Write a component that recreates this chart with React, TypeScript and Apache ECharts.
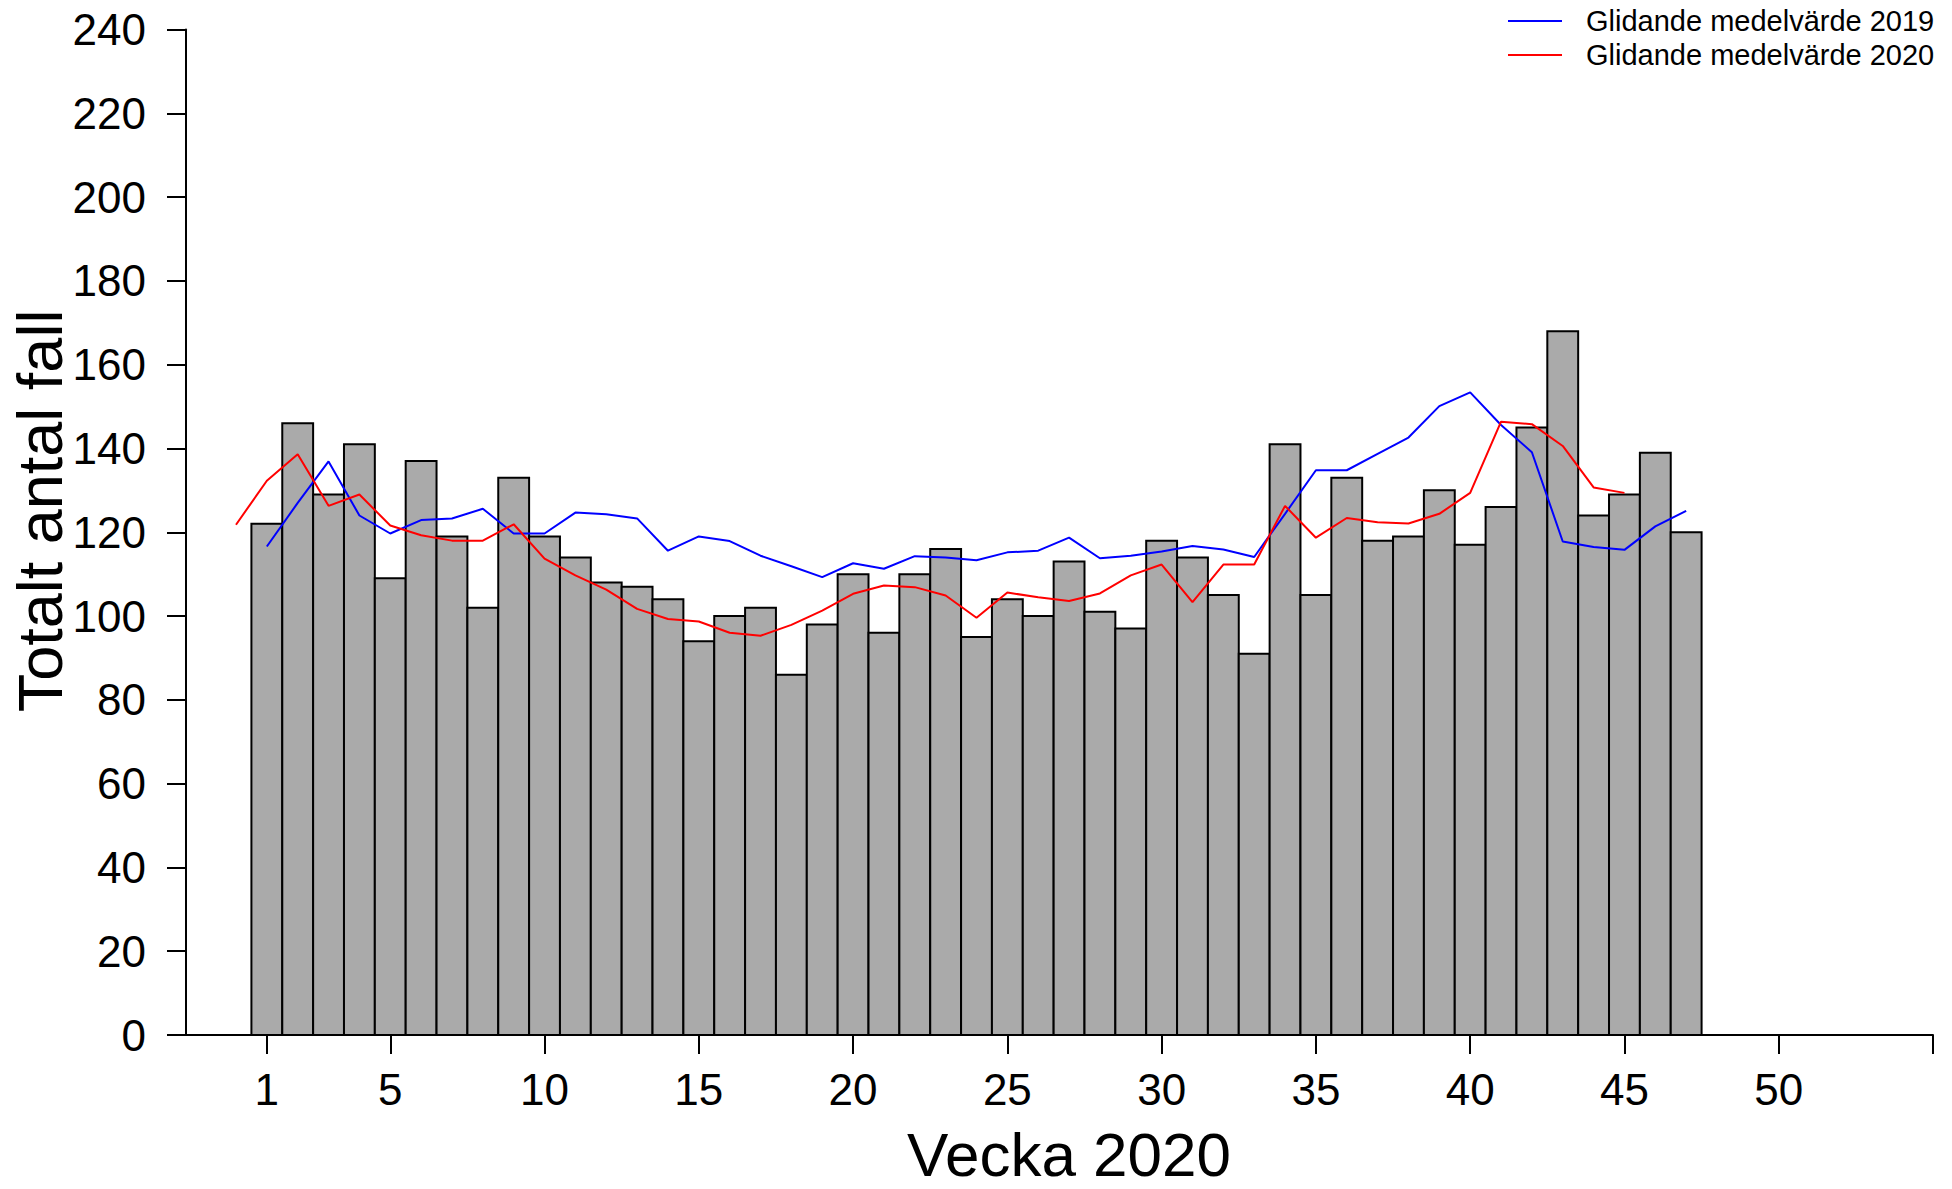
import React, { useEffect, useRef } from "react";
import * as echarts from "echarts";

// week numbers (x positions)
const weeks = [0, 1, 2, 3, 4, 5, 6, 7, 8, 9, 10, 11, 12, 13, 14, 15, 16, 17, 18, 19, 20, 21, 22, 23, 24, 25, 26, 27, 28, 29, 30, 31, 32, 33, 34, 35, 36, 37, 38, 39, 40, 41, 42, 43, 44, 45, 46, 47];

// Totalt antal fall per vecka 2020 (weeks 1..47)
const cases = [122, 146, 129, 141, 109, 137, 119, 102, 133, 119, 114, 108, 107, 104, 94, 100, 102, 86, 98, 110, 96, 110, 116, 95, 104, 100, 113, 101, 97, 118, 114, 105, 91, 141, 105, 133, 118, 119, 130, 117, 126, 145, 168, 124, 129, 139, 120];

// Glidande medelvärde 2019 (weeks 1..47)
const ma2019 = [116.6, 127.0, 136.9, 124.0, 119.7, 122.9, 123.3, 125.6, 119.7, 119.7, 124.7, 124.3, 123.3, 115.6, 119.0, 117.9, 114.4, 111.9, 109.3, 112.6, 111.3, 114.3, 114.0, 113.3, 115.2, 115.6, 118.7, 113.8, 114.4, 115.4, 116.7, 115.9, 114.1, 124.4, 134.8, 134.8, 138.7, 142.6, 150.1, 153.4, 145.6, 139.1, 117.8, 116.5, 115.8, 121.4, 125.1];

// Glidande medelvärde 2020 (weeks 0..45)
const ma2020 = [121.8, 132.3, 138.6, 126.3, 129.0, 121.6, 119.3, 118.0, 118.0, 121.9, 113.7, 109.7, 106.3, 101.7, 99.3, 98.7, 96.0, 95.3, 97.9, 101.3, 105.3, 107.3, 106.9, 104.9, 99.6, 105.6, 104.5, 103.6, 105.4, 109.7, 112.3, 103.3, 112.3, 112.3, 126.3, 118.7, 123.4, 122.4, 122.1, 124.4, 129.4, 146.4, 145.8, 140.6, 130.7, 129.4];

const xTickValues = [1, 5, 10, 15, 20, 25, 30, 35, 40, 45, 50, 55];
const xLabelValues = [1, 5, 10, 15, 20, 25, 30, 35, 40, 45, 50];

const seriesNames = ["Glidande medelvärde 2019", "Glidande medelvärde 2020"];
const xTitle = "Vecka 2020";
const yTitle = "Totalt antal fall";

const FONT = '"Liberation Sans", Arial, Helvetica, sans-serif';

export default function App() {
  const ref = useRef<HTMLDivElement>(null);

  useEffect(() => {
    document.body.style.margin = "0";
    if (!ref.current) return;
    const chart = echarts.init(ref.current, null, { renderer: "svg" });

    const barData = cases.map((v, i) => [weeks[i + 1], v]);
    const blueData = ma2019.map((v, i) => [weeks[i + 1], v]);
    const redData = ma2020.map((v, i) => [weeks[i], v]);

    const option: any = {
      animation: false,
      backgroundColor: "#ffffff",
      textStyle: { fontFamily: FONT },
      grid: {
        left: 186,
        right: 19,
        top: 29.5,
        bottom: 154,
        containLabel: false,
        outerBoundsMode: "none",
      },
      legend: {
        orient: "vertical",
        left: 1508,
        top: 4,
        padding: 0,
        itemGap: 0,
        icon: "rect",
        itemWidth: 54,
        itemHeight: 2,
        data: seriesNames,
        textStyle: {
          fontFamily: FONT,
          fontSize: 29,
          color: "#000",
          lineHeight: 34,
          padding: [0, 0, 0, 19],
        },
      },
      xAxis: {
        type: "value",
        min: -1.62,
        max: 55,
        splitLine: { show: false },
        axisLine: { show: true, onZero: false, lineStyle: { color: "#000", width: 2 } },
        axisTick: {
          show: true,
          length: 19,
          lineStyle: { color: "#000", width: 2 },
          customValues: xTickValues,
        },
        axisLabel: {
          show: true,
          customValues: xLabelValues,
          fontFamily: FONT,
          fontSize: 44,
          color: "#000",
          margin: 32,
        },
      },
      yAxis: {
        type: "value",
        min: 0,
        max: 240,
        interval: 20,
        splitLine: { show: false },
        axisLine: { show: true, onZero: false, lineStyle: { color: "#000", width: 2 } },
        axisTick: { show: true, length: 19, lineStyle: { color: "#000", width: 2 } },
        axisLabel: {
          fontFamily: FONT,
          fontSize: 44,
          color: "#000",
          margin: 40,
        },
      },
      graphic: [
        {
          type: "text",
          x: 1069,
          y: 1154,
          style: {
            text: xTitle,
            font: `62px ${FONT}`,
            fill: "#000",
            align: "center",
            verticalAlign: "middle",
          },
        },
        {
          type: "text",
          x: 40,
          y: 511,
          rotation: Math.PI / 2,
          style: {
            text: yTitle,
            font: `63px ${FONT}`,
            fill: "#000",
            align: "center",
            verticalAlign: "middle",
          },
        },
      ],
      series: [
        {
          type: "custom",
          name: "Totalt antal fall",
          data: barData,
          encode: { x: 0, y: 1 },
          renderItem: (params: any, api: any) => {
            const w = api.value(0);
            const v = api.value(1);
            const p0 = api.coord([w - 0.5, v]);
            const p1 = api.coord([w + 0.5, 0]);
            return {
              type: "rect",
              shape: { x: p0[0], y: p0[1], width: p1[0] - p0[0], height: p1[1] - p0[1] },
              style: { fill: "#AAAAAA", stroke: "#000000", lineWidth: 2 },
            };
          },
          z: 1,
        },
        {
          type: "line",
          name: seriesNames[0],
          data: blueData,
          symbol: "none",
          color: "#0000FF",
          lineStyle: { color: "#0000FF", width: 2 },
          z: 3,
        },
        {
          type: "line",
          name: seriesNames[1],
          data: redData,
          symbol: "none",
          color: "#FF0000",
          lineStyle: { color: "#FF0000", width: 2 },
          z: 4,
        },
      ],
    };

    chart.setOption(option);
    return () => {
      chart.dispose();
    };
  }, []);

  return (
    <div
      ref={ref}
      style={{ position: "fixed", left: 0, top: 0, width: 1952, height: 1189, background: "#fff" }}
    />
  );
}
